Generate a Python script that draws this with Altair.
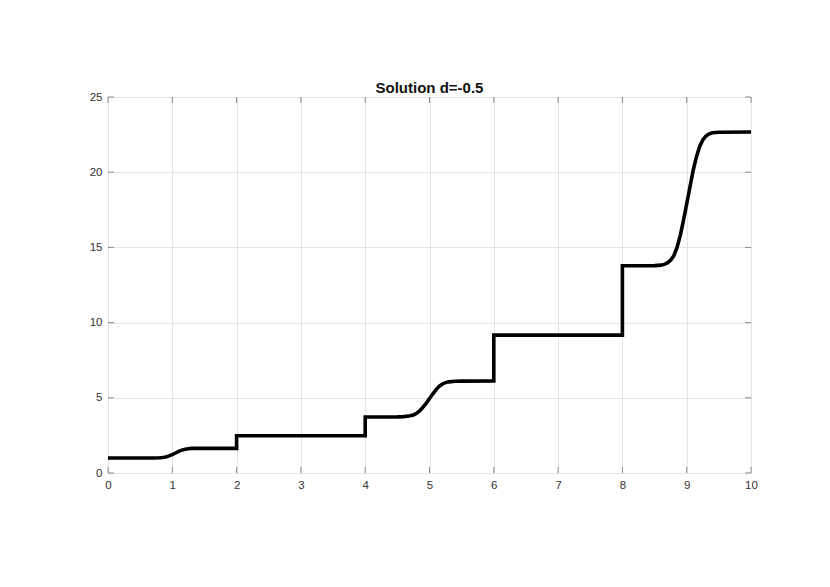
import altair as alt
import pandas as pd

# Solution curve (x, y)
xs = [0.0, 0.5, 0.7, 0.8, 0.85, 0.9, 0.95, 1.0, 1.05, 1.1, 1.15, 1.2, 1.25, 1.3, 1.4, 2.0,
      2.0, 4.0,
      4.0, 4.5, 4.6, 4.7, 4.75, 4.8, 4.85, 4.9, 4.95, 5.0, 5.05, 5.1, 5.15, 5.2, 5.25, 5.3, 5.4, 5.5, 6.0,
      6.0, 8.0,
      8.0, 8.5, 8.6, 8.65, 8.7, 8.75, 8.8, 8.85, 8.9, 8.95, 9.0, 9.05, 9.1, 9.15, 9.2, 9.25, 9.3, 9.35, 9.4, 9.5, 10.0]
ys = [1.0, 1.0, 1.0, 1.01, 1.03, 1.07, 1.14, 1.22, 1.33, 1.44, 1.52, 1.58, 1.615, 1.635, 1.64, 1.64,
      2.48, 2.48,
      3.72, 3.73, 3.75, 3.8, 3.86, 3.97, 4.15, 4.38, 4.65, 4.95, 5.25, 5.53, 5.76, 5.92, 6.01, 6.06, 6.1, 6.11, 6.12,
      9.17, 9.17,
      13.78, 13.79, 13.82, 13.87, 13.97, 14.15, 14.45, 15.0, 15.8, 16.8, 17.9, 19.0, 20.1, 21.0, 21.7, 22.15, 22.4, 22.55, 22.62, 22.66, 22.67]

x_ticks = list(range(0, 11))
y_ticks = [0, 5, 10, 15, 20, 25]
title_text = "Solution d=-0.5"

W, H = 643, 376
FONT = "Helvetica, Liberation Sans, Arial, sans-serif"
AXIS_GRAY = "#8a8a8a"

df = pd.DataFrame({"x": xs, "y": ys, "i": range(len(xs))})
dx = pd.DataFrame({"t": x_ticks})
dy = pd.DataFrame({"t": y_ticks})

xscale = alt.Scale(domain=[0, 10], nice=False, zero=False)
yscale = alt.Scale(domain=[0, 25], nice=False, zero=False)

xaxis = alt.Axis(values=x_ticks, grid=True, gridColor="#e4e4e4", ticks=False,
                 domain=False, labelPadding=6, labelFontSize=11.5, labelFlush=False,
                 labelColor="#333333", labelFont=FONT)
yaxis = alt.Axis(values=y_ticks, grid=True, gridColor="#e4e4e4", ticks=False,
                 domain=False, labelPadding=6, labelFontSize=11.5, labelFlush=False,
                 labelColor="#333333", labelFont=FONT)

line = alt.Chart(df).mark_line(color="black", strokeWidth=3.6, strokeJoin="miter").encode(
    x=alt.X("x:Q", scale=xscale, title=None, axis=xaxis),
    y=alt.Y("y:Q", scale=yscale, title=None, axis=yaxis),
    order="i:Q",
)

tick_len = 6
bottom = alt.Chart(dx).mark_rule(color=AXIS_GRAY, strokeWidth=1).encode(
    x=alt.X("t:Q", scale=xscale, title=None, axis=xaxis), y=alt.value(H), y2=alt.value(H - tick_len))
top = alt.Chart(dx).mark_rule(color=AXIS_GRAY, strokeWidth=1).encode(
    x=alt.X("t:Q", scale=xscale, title=None, axis=xaxis), y=alt.value(0), y2=alt.value(tick_len))
left = alt.Chart(dy).mark_rule(color=AXIS_GRAY, strokeWidth=1).encode(
    y=alt.Y("t:Q", scale=yscale, title=None, axis=yaxis), x=alt.value(0), x2=alt.value(tick_len))
right = alt.Chart(dy).mark_rule(color=AXIS_GRAY, strokeWidth=1).encode(
    y=alt.Y("t:Q", scale=yscale, title=None, axis=yaxis), x=alt.value(W), x2=alt.value(W - tick_len))

chart = alt.layer(bottom, top, left, right, line).properties(
    width=W, height=H,
    title=alt.Title(title_text, font=FONT, fontSize=15, fontWeight="bold",
                    color="#111111", offset=-5, anchor="middle"),
    autosize=alt.AutoSizeParams(type="none"),
    padding={"left": 100, "top": 89, "right": 70, "bottom": 100},
).configure_view(stroke=AXIS_GRAY, strokeWidth=1).configure(background="white")

chart.save("out.html", embed_options={"renderer": "svg", "actions": False})
